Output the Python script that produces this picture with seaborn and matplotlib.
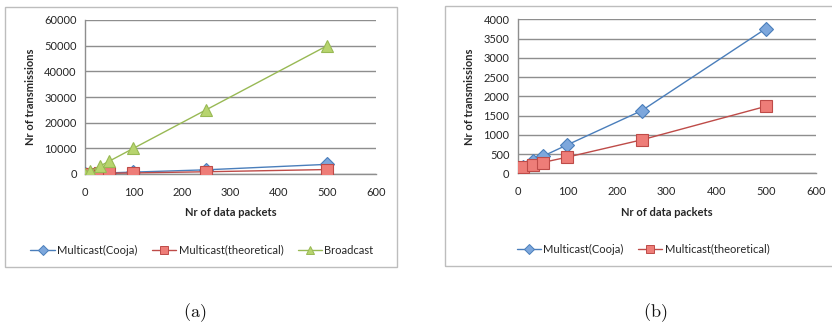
import matplotlib
matplotlib.use("Agg")
import matplotlib.pyplot as plt
import seaborn as sns
import pandas as pd
from matplotlib.patches import Rectangle
from matplotlib.lines import Line2D

sns.set_theme(style="white")
plt.rcParams["font.family"] = ["Lato", "DejaVu Sans"]
plt.rcParams["mathtext.fontset"] = "cm"

# Measured series
packets = [1, 10, 30, 50, 100, 250, 500]
multicast_cooja = [60, 170, 320, 440, 740, 1630, 3760]
multicast_theory = [130, 160, 220, 280, 420, 870, 1740]
broadcast = [100, 1000, 3000, 5000, 10000, 25000, 50000]

series_names = ["Multicast(Cooja)", "Multicast(theoretical)", "Broadcast"]
x_ticks = [0, 100, 200, 300, 400, 500, 600]
y_ticks_a = [0, 10000, 20000, 30000, 40000, 50000, 60000]
y_ticks_b = [0, 500, 1000, 1500, 2000, 2500, 3000, 3500, 4000]

styles = {
    "Multicast(Cooja)": dict(line="#4A7EBB", face="#7DA7DC", edge="#4A7EBB", marker="D", size=7),
    "Multicast(theoretical)": dict(line="#BE4B48", face="#EE7D78", edge="#BE4B48", marker="s", size=8),
    "Broadcast": dict(line="#98B954", face="#B7D46E", edge="#98B954", marker="^", size=8.5),
}

data = pd.DataFrame({
    "packets": packets * 3,
    "transmissions": multicast_cooja + multicast_theory + broadcast,
    "series": sum([[n] * len(packets) for n in series_names], []),
})

W, H = 832, 327
fig = plt.figure(figsize=(W / 100, H / 100), dpi=100)

GRID = "#8E8E8E"
TXT = "#262626"
FS = 8


def panel(rect, names, yticks, box, legend_center, caption, caption_x):
    ax = fig.add_axes(rect)
    for name in names:
        st = styles[name]
        sub = data[data["series"] == name]
        sns.lineplot(data=sub, x="packets", y="transmissions", ax=ax,
                     color=st["line"], linewidth=1.0, marker=st["marker"],
                     markersize=st["size"], markerfacecolor=st["face"],
                     markeredgecolor=st["edge"], markeredgewidth=0.8,
                     legend=False, zorder=3)
    ax.set_xlim(0, 600)
    ax.set_ylim(0, yticks[-1])
    ax.set_xticks(x_ticks)
    ax.set_yticks(yticks)
    ax.set_xticklabels([str(t) for t in x_ticks], fontsize=FS, color=TXT)
    ax.set_yticklabels([str(t) for t in yticks], fontsize=FS, color=TXT)
    ax.yaxis.grid(True, color=GRID, linewidth=1.0)
    ax.xaxis.grid(False)
    ax.set_axisbelow(True)
    for s in ["top", "right"]:
        ax.spines[s].set_visible(False)
    for s in ["left", "bottom"]:
        ax.spines[s].set_color(GRID)
        ax.spines[s].set_linewidth(1.0)
    ax.tick_params(axis="x", direction="out", length=4, width=1.0, color=GRID, pad=5)
    ax.tick_params(axis="y", length=0, pad=6)
    ax.set_xlabel("Nr of data packets", fontsize=FS, fontweight="bold", color=TXT, labelpad=7)
    ax.set_ylabel("Nr of transmissions", fontsize=FS, fontweight="bold", color=TXT, labelpad=6)
    ax.patch.set_alpha(0)

    fig.patches.append(Rectangle((box[0] / W, 1 - box[3] / H),
                                 (box[2] - box[0]) / W, (box[3] - box[1]) / H,
                                 transform=fig.transFigure, fill=False,
                                 edgecolor="#BDBDBD", linewidth=1.0, zorder=0))

    handles = []
    for name in names:
        st = styles[name]
        handles.append(Line2D([], [], color=st["line"], linewidth=1.0, marker=st["marker"],
                              markersize=st["size"] * 0.75, markerfacecolor=st["face"],
                              markeredgecolor=st["edge"], markeredgewidth=0.7))
    fig.legend(handles, names, loc="center", ncol=len(names), frameon=False,
               bbox_to_anchor=(legend_center[0] / W, 1 - legend_center[1] / H),
               fontsize=FS, handlelength=2.2, handletextpad=0.2, columnspacing=1.3,
               labelcolor=TXT)
    fig.text(caption_x / W, 1 - 313 / H, caption, fontsize=13, ha="center", va="center",
             color="#111111")
    return ax


panel([85 / W, 1 - 174 / H, (375.7 - 85) / W, (174 - 20) / H],
      series_names, y_ticks_a, (5, 7, 397, 267), (202, 250), r"$\mathrm{(a)}$", 195)
panel([517.7 / W, 1 - 173.3 / H, (815.7 - 517.7) / W, (173.3 - 19.3) / H],
      series_names[:2], y_ticks_b, (445, 6, 845, 266), (643, 249), r"$\mathrm{(b)}$", 655)

fig.savefig("out.png", dpi=100)
